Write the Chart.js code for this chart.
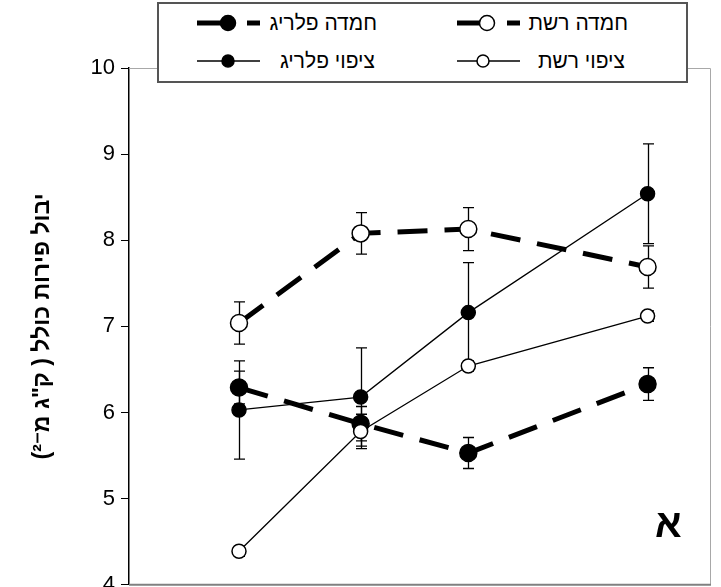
<!DOCTYPE html>
<html lang="he">
<head>
<meta charset="utf-8">
<title>יבול פירות כולל</title>
<script src="https://cdn.jsdelivr.net/npm/chart.js@4/dist/chart.umd.min.js"></script>
<style>
  html, body { margin: 0; padding: 0; background: #fff; overflow: hidden; }
  #wrap { position: relative; width: 721px; height: 604px; }
  #chart { position: absolute; left: 0; top: 0; }
  #legend {
    position: absolute; left: 157px; top: 2px; width: 527px; height: 77px;
    border: 2px solid #555; background: #fff;
    font-family: "Liberation Sans", Arial, sans-serif; font-size: 21px; color: #000;
  }
  #legend .txt { position: absolute; direction: rtl; white-space: nowrap; line-height: 24px; }
  #legend svg { position: absolute; left: 0; top: 0; }
  #panel {
    position: absolute; left: 655px; top: 505px; line-height: 38px;
    font-family: "Liberation Sans", Arial, sans-serif; font-weight: bold; font-size: 39px; color: #000;
  }
</style>
</head>
<body>
<div id="wrap">
  <canvas id="chart" width="721" height="604" dir="rtl"></canvas>
  <div id="legend"></div>
  <div id="panel"></div>
</div>
<script>
// Sampling times along the horizontal axis (axis itself is unlabeled)
const sampleX = [18.9, 39.8, 58.3, 89.1];

// Series means and error-bar half-widths (kg per m²)
const hamdaReshet     = [7.04, 8.08, 8.13, 7.69];
const hamdaReshetErr  = [0.245, 0.24, 0.25, 0.245];
const hamdaPlarig     = [6.29, 5.87, 5.53, 6.33];
const hamdaPlarigErr  = [0.19, 0.2, 0.18, 0.19];
const tzipuyReshet    = [4.39, 5.78, 6.54, 7.12];
const tzipuyReshetErr = [0.06, 0.2, 0.06, 0.06];
const tzipuyPlarig    = [6.03, 6.18, 7.16, 8.54];
const tzipuyPlarigErr = [0.57, 0.57, 0.58, 0.58];

const yTicks = [4, 5, 6, 7, 8, 9, 10];
const yTitle = 'יבול פירות כולל ( ק"ג מ⁻²)';
const panelLabel = 'א';

const FONT = '"Liberation Sans", Arial, sans-serif';

function pts(vals) { return vals.map((v, i) => ({ x: sampleX[i], y: v })); }

const dashedStyle = { borderWidth: 5, borderDash: [30, 17], pointRadius: 8.5 };
const solidStyle  = { borderWidth: 1.3, borderDash: [], pointRadius: 7 };

// index 0 is painted last (on top)
const datasets = [
  Object.assign({ label: 'ציפוי רשת', data: pts(tzipuyReshet), err: tzipuyReshetErr, pointBackgroundColor: '#fff' }, solidStyle),
  Object.assign({ label: 'ציפוי פלריג', data: pts(tzipuyPlarig), err: tzipuyPlarigErr, pointBackgroundColor: '#000' }, solidStyle),
  Object.assign({ label: 'חמדה רשת', data: pts(hamdaReshet), err: hamdaReshetErr, pointBackgroundColor: '#fff' }, dashedStyle),
  Object.assign({ label: 'חמדה פלריג', data: pts(hamdaPlarig), err: hamdaPlarigErr, pointBackgroundColor: '#000' }, dashedStyle)
];
datasets.forEach(d => {
  d.borderColor = '#000';
  d.pointBorderColor = '#000';
  d.pointBorderWidth = 1.5;
  d.pointHoverRadius = d.pointRadius;
  d.borderCapStyle = 'butt';
  d.tension = 0;
  d.fill = false;
});

// Frame of the plot area: light top/right edges, grey baseline
const plotFrame = {
  id: 'plotFrame',
  beforeDatasetsDraw(chart) {
    const { ctx, chartArea: a } = chart;
    ctx.save();
    ctx.lineWidth = 1;
    ctx.strokeStyle = '#a8a8a8';
    ctx.beginPath();
    ctx.moveTo(a.left, a.top + 0.5); ctx.lineTo(a.right - 0.5, a.top + 0.5);
    ctx.lineTo(a.right - 0.5, a.bottom);
    ctx.stroke();
    ctx.lineWidth = 2;
    ctx.strokeStyle = '#808080';
    ctx.beginPath();
    ctx.moveTo(a.left, a.bottom); ctx.lineTo(a.right, a.bottom);
    ctx.stroke();
    ctx.restore();
  }
};

// Vertical error bars with caps, painted beneath the lines and markers
const errorBars = {
  id: 'errorBars',
  beforeDatasetsDraw(chart) {
    const { ctx, scales: { x, y } } = chart;
    ctx.save();
    ctx.strokeStyle = '#000';
    ctx.lineWidth = 1.3;
    chart.data.datasets.forEach(ds => {
      ds.data.forEach((p, i) => {
        const e = ds.err[i];
        if (!e) return;
        const px = Math.round(x.getPixelForValue(p.x)) + 0.5;
        const top = y.getPixelForValue(p.y + e);
        const bot = y.getPixelForValue(p.y - e);
        ctx.beginPath();
        ctx.moveTo(px, top); ctx.lineTo(px, bot);
        ctx.moveTo(px - 5.5, top); ctx.lineTo(px + 5.5, top);
        ctx.moveTo(px - 5.5, bot); ctx.lineTo(px + 5.5, bot);
        ctx.stroke();
      });
    });
    ctx.restore();
  }
};

const chart = new Chart(document.getElementById('chart'), {
  type: 'line',
  data: { datasets },
  plugins: [plotFrame, errorBars],
  options: {
    responsive: false,
    animation: false,
    devicePixelRatio: 1,
    layout: { padding: { top: 68, right: 1, bottom: 17, left: 0 } },
    plugins: { legend: { display: false }, tooltip: { enabled: false } },
    events: [],
    scales: {
      x: { type: 'linear', min: 0, max: 100, display: false },
      y: {
        min: 4, max: 10,
        afterFit(s) { s.width = 129; },
        afterBuildTicks(s) { s.ticks = yTicks.map(v => ({ value: v })); },
        ticks: { color: '#000', font: { family: FONT, size: 22 }, padding: 6 },
        grid: { drawOnChartArea: false, drawTicks: true, tickLength: 8, color: '#000', lineWidth: 1 },
        border: { color: '#000', width: 1.5 },
        title: {
          display: true, text: yTitle, color: '#000',
          font: { family: FONT, size: 23, weight: 'bold' },
          padding: { top: 29, bottom: 0 }
        }
      }
    }
  }
});

// Legend: two rows, sample line + marker to the left of each name
const legendRows = [
  { ds: 2, textRight: 58,  sampleLeft: 298, markerX: 328, y: 19 },
  { ds: 3, textRight: 309, sampleLeft: 38,  markerX: 69,  y: 19 },
  { ds: 0, textRight: 61,  sampleLeft: 298, markerX: 324, y: 57 },
  { ds: 1, textRight: 311, sampleLeft: 38,  markerX: 69,  y: 57 }
];
const legend = document.getElementById('legend');
const NS = 'http://www.w3.org/2000/svg';
const svg = document.createElementNS(NS, 'svg');
svg.setAttribute('width', 527); svg.setAttribute('height', 77);
legend.appendChild(svg);
function svgLine(x1, y1, x2, y2, w) {
  const l = document.createElementNS(NS, 'line');
  l.setAttribute('x1', x1); l.setAttribute('y1', y1);
  l.setAttribute('x2', x2); l.setAttribute('y2', y2);
  l.setAttribute('stroke', '#000'); l.setAttribute('stroke-width', w);
  svg.appendChild(l);
}
legendRows.forEach(r => {
  const ds = datasets[r.ds];
  const w = 63;
  if (ds.borderDash.length) {
    svgLine(r.sampleLeft, r.y, r.markerX, r.y, ds.borderWidth);
    svgLine(r.sampleLeft + 50, r.y, r.sampleLeft + w, r.y, ds.borderWidth);
  } else {
    svgLine(r.sampleLeft, r.y, r.sampleLeft + w, r.y, ds.borderWidth);
  }
  const c = document.createElementNS(NS, 'circle');
  c.setAttribute('cx', r.markerX); c.setAttribute('cy', r.y);
  c.setAttribute('r', ds.pointRadius - 1);
  c.setAttribute('fill', ds.pointBackgroundColor);
  c.setAttribute('stroke', '#000'); c.setAttribute('stroke-width', 1.5);
  svg.appendChild(c);
  const t = document.createElement('div');
  t.className = 'txt';
  t.textContent = ds.label;
  t.style.right = r.textRight + 'px';
  t.style.top = (r.y - 12) + 'px';
  legend.appendChild(t);
});

document.getElementById('panel').textContent = panelLabel;
</script>
</body>
</html>
